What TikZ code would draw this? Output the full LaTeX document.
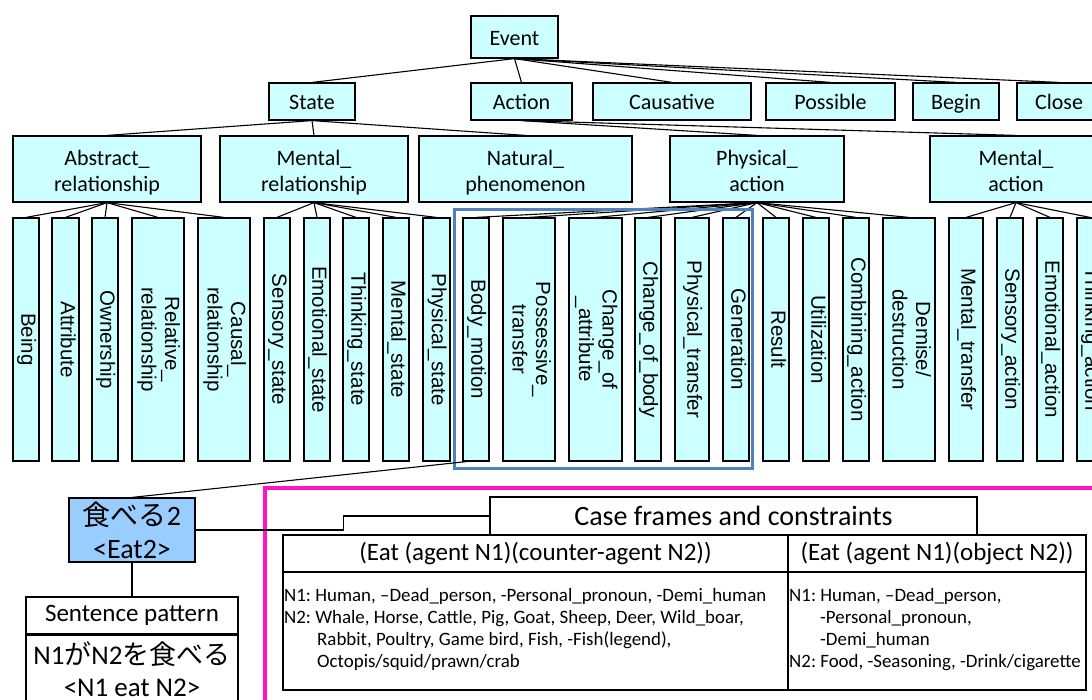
\documentclass[tikz,border=0pt]{standalone}
\usepackage{fontspec}
\setmainfont{Carlito}
\newfontfamily\cjk{Noto Sans CJK JP}
\newfontfamily\vfont{Liberation Sans}
\usepackage{graphicx}
\usetikzlibrary{calc}
\definecolor{cy}{HTML}{CCFFFF}
\definecolor{eatblue}{HTML}{99CCFF}
\definecolor{selblue}{HTML}{4F81BD}
\definecolor{framepink}{HTML}{FF14C8}
\newcommand{\vt}[1]{\rotatebox{-90}{\begin{tabular}{@{}c@{}}#1\end{tabular}}}
\newcommand{\tl}[2]{\rule{0pt}{23pt}#1\\#2\rule[-5pt]{0pt}{5pt}}
\frenchspacing
\begin{document}
\begin{tikzpicture}[x=1pt,y=-1pt,
 box/.style={draw, fill=cy, line width=1.2pt, inner sep=0pt, align=center, font=\fontsize{22}{26}\selectfont},
 oneline/.style={text height=19pt, text depth=3pt},
 tall/.style={draw, fill=cy, line width=1.2pt, inner sep=0pt, minimum height=243pt, font=\vfont\fontsize{20.5}{23.5}\selectfont},
 link/.style={line width=1.1pt},
 wbox/.style={draw, fill=white, line width=1.2pt, inner sep=0pt, align=center},
 small/.style={inner sep=0pt, anchor=base west, font=\fontsize{18.9}{22}\selectfont}]
\useasboundingbox (0,0) rectangle (1092,699);
\fill[white] (0,0) rectangle (1092,699);
\clip (0,0) rectangle (1092,699);
% top
\node[box, oneline, minimum width=87pt, minimum height=42pt] (event) at (514.5,37) {Event};
% row 2
\node[box, oneline, minimum width=86pt, minimum height=37pt] (state) at (312,101.5) {State};
\node[box, oneline, minimum width=101pt, minimum height=37pt] (action) at (521.5,101.5) {Action};
\node[box, oneline, minimum width=158pt, minimum height=37pt] (causative) at (672,101.5) {Causative};
\node[box, oneline, minimum width=129pt, minimum height=37pt] (possible) at (830.5,101.5) {Possible};
\node[box, oneline, minimum width=86pt, minimum height=37pt] (begin) at (956,101.5) {Begin};
\node[box, oneline, minimum width=84pt, minimum height=37pt] (close) at (1059,101.5) {Close};
% row 3
\node[box, minimum width=188pt, minimum height=66pt] (abs) at (107,169) {\tl{Abstract\_}{relationship}};
\node[box, minimum width=188pt, minimum height=66pt] (mrel) at (314,169) {\tl{Mental\_}{relationship}};
\node[box, minimum width=213pt, minimum height=66pt] (nat) at (525.5,169) {\tl{Natural\_}{phenomenon}};
\node[box, minimum width=174pt, minimum height=66pt] (pact) at (757,169) {\tl{Physical\_}{action}};
\node[box, minimum width=172pt, minimum height=66pt] (mact) at (1016,169) {\tl{Mental\_}{action}};
% row 4
\node[tall, minimum width=26pt] (being) at (26,339.5) {\vt{Being}};
\node[tall, minimum width=27pt] (attribute) at (65.5,339.5) {\vt{Attribute}};
\node[tall, minimum width=26pt] (ownership) at (105,339.5) {\vt{Ownership}};
\node[tall, minimum width=52pt] (relative) at (158,339.5) {\vt{Relative\_\\relationship}};
\node[tall, minimum width=52pt] (causal) at (224,339.5) {\vt{Causal\_\\relationship}};
\node[tall, minimum width=26pt] (sensory) at (277,339.5) {\vt{Sensory\_state}};
\node[tall, minimum width=26pt] (emotional) at (317,339.5) {\vt{Emotional\_state}};
\node[tall, minimum width=26pt] (thinking) at (356,339.5) {\vt{Thinking\_state}};
\node[tall, minimum width=26pt] (mentalstate) at (396,339.5) {\vt{Mental\_state}};
\node[tall, minimum width=27pt] (physstate) at (436.5,339.5) {\vt{Physical\_state}};
\node[tall, minimum width=26pt] (bodymotion) at (476,339.5) {\vt{Body\_motion}};
\node[tall, minimum width=52pt] (possessive) at (529,339.5) {\vt{Possessive\_\\transfer}};
\node[tall, minimum width=53pt] (changeattr) at (595.5,339.5) {\vt{Change\_of\\\_attribute}};
\node[tall, minimum width=26pt] (changebody) at (648,339.5) {\vt{Change\_of\_body}};
\node[tall, minimum width=34pt] (phystransfer) at (692,339.5) {\vt{Physical\_transfer}};
\node[tall, minimum width=26pt] (generation) at (736,339.5) {\vt{Generation}};
\node[tall, minimum width=26pt] (result) at (776,339.5) {\vt{Result}};
\node[tall, minimum width=26pt] (utilization) at (816,339.5) {\vt{Utilization}};
\node[tall, minimum width=26pt] (combining) at (856,339.5) {\vt{Combining\_action}};
\node[tall, minimum width=52pt] (demise) at (909,339.5) {\vt{Demise/\\destruction}};
\node[tall, minimum width=34pt] (mentaltransfer) at (966,339.5) {\vt{Mental\_transfer}};
\node[tall, minimum width=26pt] (sensoryaction) at (1010,339.5) {\vt{Sensory\_action}};
\node[tall, minimum width=26pt] (emotionalaction) at (1050,339.5) {\vt{Emotional\_action}};
\node[tall, minimum width=26pt] (thinkingaction) at (1090,339.5) {\vt{Thinking\_action}};
% connectors
\foreach \c in {state,action,causative,possible,begin,close} \draw[link] (event.south) -- (\c.north);
\foreach \c in {abs,mrel,nat} \draw[link] (state.south) -- (\c.north);
\foreach \c in {pact,mact} \draw[link] (action.south) -- (\c.north);
\foreach \c in {being,attribute,ownership,relative,causal} \draw[link] (abs.south) -- (\c.north);
\foreach \c in {sensory,emotional,thinking,mentalstate,physstate} \draw[link] (mrel.south) -- (\c.north);
\foreach \c in {bodymotion,possessive,changeattr,changebody,phystransfer,generation,result,utilization,combining,demise} \draw[link] (pact.south) -- (\c.north);
\foreach \c in {mentaltransfer,sensoryaction,emotionalaction,thinkingaction} \draw[link] (mact.south) -- (\c.north);
% highlight frames
\draw[selblue, line width=3pt] (454,209) rectangle (752,468);
\draw[framepink, line width=3.2pt] (265,488) rectangle (1110,720);
% bottom
\node[draw, fill=eatblue, line width=1.2pt, inner sep=0pt, minimum width=126pt, minimum height=64pt, align=center, font=\fontsize{28}{33}\selectfont] (eat) at (132,530) {{\cjk 食べる}2\\<Eat2>};
\node[wbox, minimum width=212pt, minimum height=37pt, font=\fontsize{25}{30}\selectfont] (sph) at (132,615.5) {Sentence pattern};
\node[wbox, minimum width=212pt, minimum height=68pt, anchor=north, font=\fontsize{27}{32}\selectfont] (spb) at (sph.south) {N1{\cjk が}N2{\cjk を食べる}\\<N1 eat N2>};
\node[wbox, minimum width=487pt, minimum height=38pt, font=\fontsize{28}{32}\selectfont] (cf) at (733.5,516) {Case frames and constraints};
\node[wbox, minimum width=505pt, minimum height=37pt, font=\fontsize{25}{30}\selectfont] (h1) at (535.5,553.5) {(Eat (agent N1)(counter-agent N2))};
\node[wbox, minimum width=298pt, minimum height=37pt, font=\fontsize{25}{30}\selectfont] (h2) at (937,553.5) {(Eat (agent N1)(object N2))};
\node[wbox, minimum width=505pt, minimum height=118pt] (c1) at (535.5,631) {};
\node[wbox, minimum width=298pt, minimum height=118pt] (c2) at (937,631) {};
\node[small] (l1) at (284,601) {N1: Human, –Dead\_person, -Personal\_pronoun, -Demi\_human};
\node[small] (l2) at (284,623) {N2: Whale, Horse, Cattle, Pig, Goat, Sheep, Deer, Wild\_boar,};
\node[small] (l3) at (317,645) {Rabbit, Poultry, Game bird, Fish, -Fish(legend),};
\node[small] (l4) at (317,667) {Octopis/squid/prawn/crab};
\node[small] (r1) at (789,601) {N1: Human, –Dead\_person,};
\node[small] (r2) at (820,623) {-Personal\_pronoun,};
\node[small] (r3) at (820,645) {-Demi\_human};
\node[small] (r4) at (789,667) {N2: Food, -Seasoning, -Drink/cigarette};
\draw[link] (eat.east) -- ++(148,0) |- (cf.west);
\draw[link] (eat.south) -- (sph.north);
\draw[link] ($(bodymotion.south west)!0.15!(bodymotion.south east)$) -- (eat.north);
\end{tikzpicture}
\end{document}
